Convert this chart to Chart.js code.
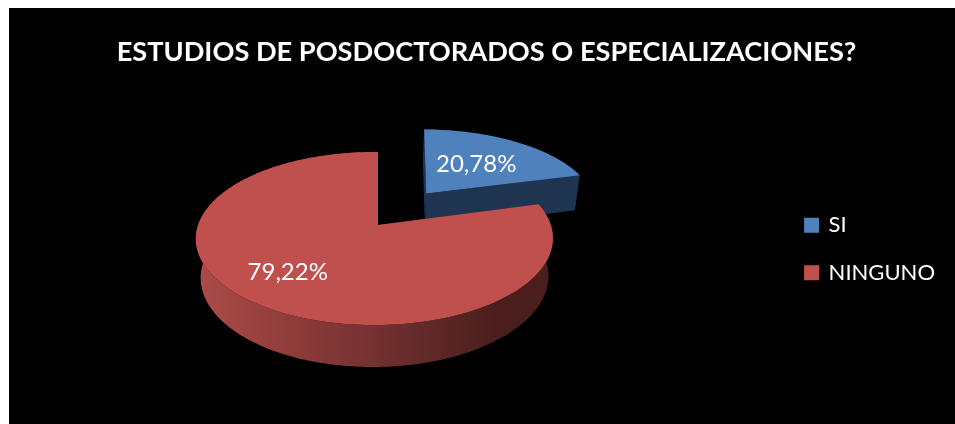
<!DOCTYPE html>
<html>
<head>
<meta charset="utf-8">
<script src="https://cdn.jsdelivr.net/npm/chart.js@4"></script>
<style>
html,body{margin:0;padding:0;background:#fff;overflow:hidden}
#wrap{position:absolute;left:9px;top:8px;width:946px;height:416px;background:#000}
</style>
</head>
<body>
<div id="wrap"><canvas id="c" width="946" height="416"></canvas></div>
<script>
const chartTitle = "ESTUDIOS DE POSDOCTORADOS O ESPECIALIZACIONES?";
const categories = ["SI", "NINGUNO"];
const percentages = [20.78, 79.22];
const percentLabels = ["20,78%", "79,22%"];
const topColors = ["#4f81bd", "#c0504d"];
const explode = [0.5, 0];

// perspective view of the disc
const view = {cx: 369, cy: 217, A: 84.4, B: 176.3, k: 0.156, m: 0.02, n: 0.026, D: 39.1};
// an exploded slice sits farther back: it is drawn a little smaller about its own apex
const far = {sx: 0.96, sy: 0.88, skew: 0.03, shift: -2};
function project(u, v, h) {
  const w = 1 - view.k * v + view.m * u + view.n * h;
  return [view.cx + view.B * u / w, view.cy + (view.A * v + view.D * h) / w];
}
function place(el, i, u, v, h) {
  if (!explode[i]) return project(u, v, h);
  const mid = (el.startAngle + el.endAngle) / 2;
  const a = project(explode[i] * Math.cos(mid), explode[i] * Math.sin(mid), h);
  const o = project(0, 0, h), p = project(u, v, h);
  const ry = far.sy * (p[1] - o[1]);
  return [a[0] + far.shift + far.sx * (p[0] - o[0]) + far.skew * ry, a[1] + ry];
}
function arcPts(el, i, h) {
  const pts = [], n = 200;
  for (let s = 0; s <= n; s++) {
    const a = el.startAngle + (el.endAngle - el.startAngle) * s / n;
    pts.push(place(el, i, Math.cos(a), Math.sin(a), h));
  }
  return pts;
}
function fillPoly(ctx, pts, style) {
  ctx.beginPath();
  pts.forEach((p, j) => j ? ctx.lineTo(p[0], p[1]) : ctx.moveTo(p[0], p[1]));
  ctx.closePath();
  ctx.fillStyle = style;
  ctx.fill();
}
function wallStyle(ctx, i) {
  if (i === 0) return "#1f3450";
  const g = ctx.createLinearGradient(191, 0, 540, 0);
  g.addColorStop(0, "#ac4a48");
  g.addColorStop(0.25, "#8f3d3b");
  g.addColorStop(0.5, "#733130");
  g.addColorStop(0.75, "#552423");
  g.addColorStop(0.85, "#4a1e1d");
  g.addColorStop(1, "#4a1e1d");
  return g;
}
function drawSlice(ctx, el, i) {
  const top = arcPts(el, i, 0), bot = arcPts(el, i, 1);
  const apexT = place(el, i, 0, 0, 0), apexB = place(el, i, 0, 0, 1);
  const wall = wallStyle(ctx, i);
  fillPoly(ctx, top.concat(bot.slice().reverse()), wall);
  fillPoly(ctx, [apexT, top[0], bot[0], apexB], wall);
  fillPoly(ctx, [apexT, top[top.length-1], bot[bot.length-1], apexB], wall);
  fillPoly(ctx, [apexT].concat(top), topColors[i]);
}
const labelRadius = [0.6, 0.68];
const labelNudge = [[-6, 3], [-10, -3]];
const legendShift = {x: 0, y: 19};

const perspectivePie = {
  id: "perspectivePie",
  afterLayout(chart) {
    const l = chart.legend;
    l.left += legendShift.x; l.right += legendShift.x;
    l.top += legendShift.y; l.bottom += legendShift.y;
  },
  beforeDatasetDraw(chart) {
    const ctx = chart.ctx, arcs = chart.getDatasetMeta(0).data;
    ctx.save();
    arcs.forEach((el, i) => drawSlice(ctx, el, i));
    ctx.font = "24px Lato";
    ctx.fillStyle = "#fff";
    ctx.textAlign = "center";
    ctx.textBaseline = "middle";
    arcs.forEach((el, i) => {
      const mid = (el.startAngle + el.endAngle) / 2, f = labelRadius[i];
      const p = place(el, i, f * Math.cos(mid), f * Math.sin(mid), 0);
      ctx.fillText(percentLabels[i], p[0] + labelNudge[i][0], p[1] + labelNudge[i][1]);
    });
    ctx.restore();
    return false;
  }
};

new Chart(document.getElementById("c"), {
  type: "pie",
  data: {
    labels: categories,
    datasets: [{data: percentages, backgroundColor: topColors, borderColor: topColors, borderWidth: 3}]
  },
  options: {
    responsive: false,
    animation: false,
    layout: {padding: {left: 19, top: 28, right: 10}},
    plugins: {
      title: {display: true, text: chartTitle, color: "#fff",
              font: {family: "Lato", size: 27.2, weight: "bold"}, padding: 0},
      legend: {position: "right",
        labels: {color: "#fff", boxWidth: 12, boxHeight: 12, padding: 25.5,
                 font: {family: "Lato", size: 22}}},
      tooltip: {enabled: false}
    }
  },
  plugins: [perspectivePie]
});
</script>
</body>
</html>
